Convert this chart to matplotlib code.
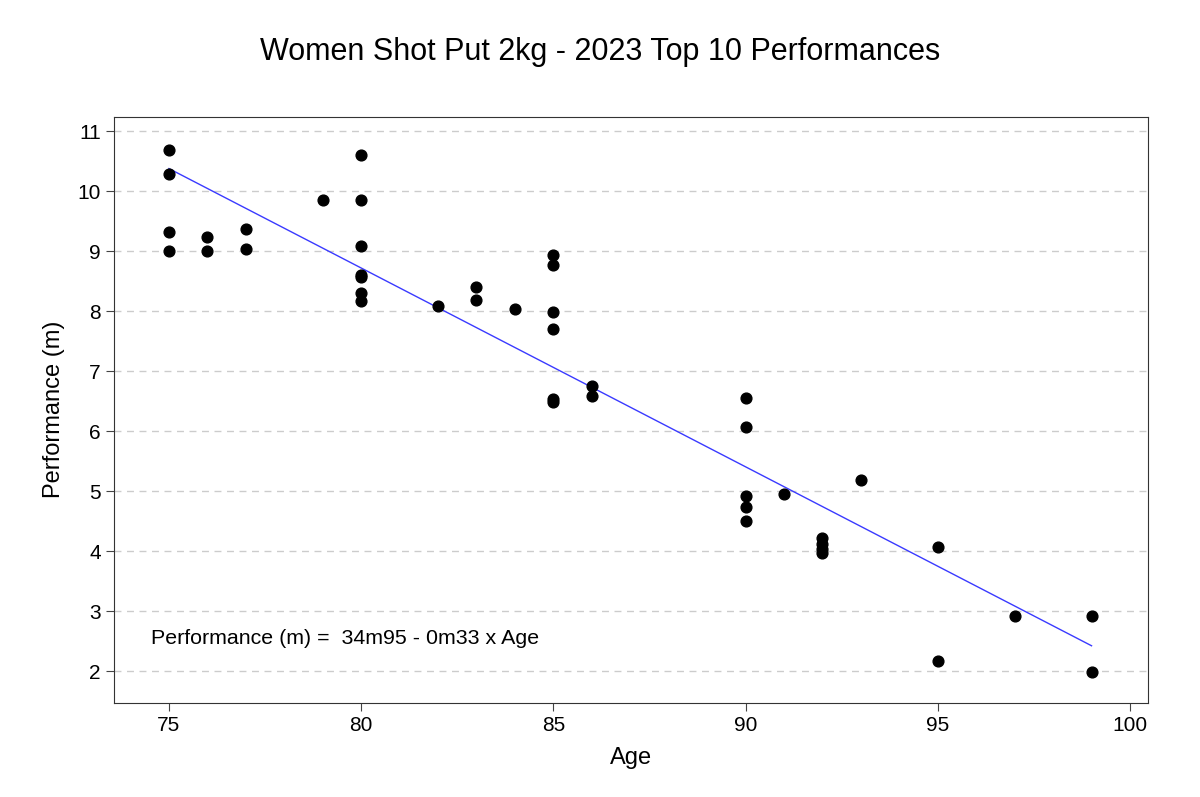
import numpy as np
import matplotlib
matplotlib.use('Agg')
import matplotlib.pyplot as plt

plt.rcParams['font.family'] = ['Liberation Sans', 'DejaVu Sans']

# top 10 performances per age
ages = [75, 75, 75, 75,
        76, 76,
        77, 77,
        79,
        80, 80, 80, 80, 80, 80, 80,
        82,
        83, 83,
        84,
        85, 85, 85, 85, 85, 85,
        86, 86,
        90, 90, 90, 90, 90,
        91,
        92, 92, 92, 92,
        93,
        95, 95,
        97,
        99, 99]
perf = [10.68, 10.28, 9.32, 9.00,
        9.24, 9.00,
        9.37, 9.04,
        9.86,
        10.61, 9.85, 9.09, 8.61, 8.57, 8.30, 8.17,
        8.08,
        8.40, 8.19,
        8.03,
        8.93, 8.77, 7.99, 7.71, 6.53, 6.49,
        6.75, 6.58,
        6.56, 6.07, 4.92, 4.74, 4.50,
        4.95,
        4.21, 4.12, 4.04, 3.96,
        5.19,
        4.06, 2.16,
        2.91,
        2.91, 1.99]
x_ticks = [75, 80, 85, 90, 95, 100]
y_ticks = [2, 3, 4, 5, 6, 7, 8, 9, 10, 11]

ages = np.array(ages)
perf = np.array(perf)

fig = plt.figure(figsize=(12, 7.97), dpi=100)
ax = fig.add_axes([0.095, 0.1185, 0.8617, 0.735])

ax.scatter(ages, perf, s=60, c='black', zorder=3)

# least squares fit
slope, intercept = np.polyfit(ages, perf, 1)
xs = np.array([ages.min(), ages.max()])
ax.plot(xs, intercept + slope * xs, color='#3a3aff', lw=1, zorder=2)

ax.text(0.036, 0.1, 'Performance (m) =  34m95 - 0m33 x Age',
        transform=ax.transAxes, fontsize=15.4)

ax.set_xlim(73.57, 100.47)
ax.set_ylim(1.475, 11.24)
ax.set_xticks(x_ticks)
ax.set_yticks(y_ticks)
ax.tick_params(labelsize=15, length=6, color='#444444')
ax.yaxis.grid(True, linestyle=(0, (5, 4)), color='#cccccc', lw=1)
ax.set_axisbelow(True)
for sp in ax.spines.values():
    sp.set_color('#333333')

ax.set_xlabel('Age', fontsize=17, labelpad=9)
ax.set_ylabel('Performance (m)', fontsize=17, labelpad=9)
fig.text(0.5, 0.935, 'Women Shot Put 2kg - 2023 Top 10 Performances',
         ha='center', va='center', fontsize=22)

fig.savefig('out.png')
